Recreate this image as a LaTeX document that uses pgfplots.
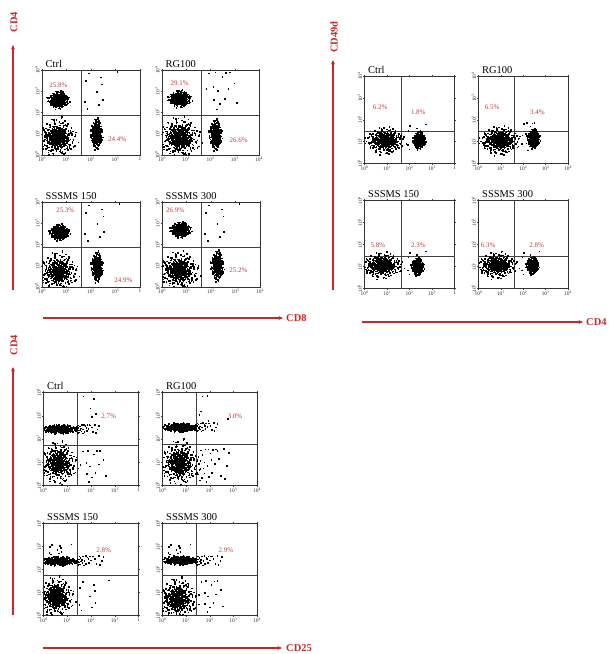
\documentclass[border=0pt]{standalone}
\usepackage{fontspec}
\setmainfont{Liberation Serif}
\usepackage{pgfplots}
\usepackage{pgfplotstable}
\pgfplotsset{compat=1.18}
\usetikzlibrary{arrows.meta}

\definecolor{axred}{RGB}{200,40,40}
\definecolor{pctred}{RGB}{196,62,62}

% event cloud, offsets in standard units (scaled per population)
\pgfplotstableread{
u v
0.12 -0.45
-0.83 0.31
1.21 0.07
-0.36 -1.12
0.54 0.88
-1.47 -0.22
0.03 0.61
0.77 -0.69
-0.15 1.34
1.68 -0.41
-0.62 -0.58
0.29 0.19
-1.05 0.96
0.91 1.52
-0.24 -0.03
0.46 -1.63
-1.89 0.44
1.03 -0.17
-0.51 0.72
0.18 -0.91
-0.07 0.27
2.11 0.63
-0.95 -1.38
0.64 0.35
-0.33 1.81
1.37 -1.06
-0.71 0.08
0.08 -0.26
-1.26 -0.79
0.39 1.09
0.85 0.02
-0.19 -0.74
-2.04 -0.11
0.57 -0.38
-0.44 0.51
1.49 0.83
0.22 -1.97
-0.88 1.21
0.01 -0.55
0.73 0.67
-1.16 0.19
0.33 -0.12
-0.58 -0.96
1.12 1.31
-0.27 0.04
0.96 -0.83
-1.58 1.02
0.14 0.93
-0.69 -0.31
1.84 -0.22
-0.11 -1.46
0.48 0.14
-0.96 0.66
0.26 -0.67
-0.42 -0.17
1.29 0.41
-1.33 -1.21
0.61 1.73
-0.05 -0.09
0.82 -1.27
-0.77 1.47
0.37 0.52
-2.31 0.58
1.07 -0.54
-0.21 0.83
0.69 -0.04
-0.54 -1.72
0.11 1.18
-1.08 -0.47
1.58 1.14
-0.31 -0.36
0.44 -0.81
-0.81 0.38
0.93 0.26
-0.13 2.06
0.05 -1.09
-1.71 -0.63
1.41 -0.73
-0.47 0.17
0.31 0.74
-0.64 -0.08
0.19 -0.33
2.36 -0.49
-1.19 1.63
0.58 -1.51
-0.09 0.44
0.87 0.59
-0.38 -0.62
1.19 -0.29
-0.99 -1.84
0.24 0.06
-0.57 1.05
1.63 0.29
-0.17 -1.21
0.66 1.27
-1.42 0.71
0.41 -0.47
-0.74 -0.24
0.98 0.97
-0.02 0.36
-1.22 -0.04
0.53 -0.99
-0.35 1.58
1.31 0.54
-0.86 -0.71
0.16 0.58
-1.64 -0.93
0.79 -0.14
-0.26 -0.49
0.47 2.21
-0.49 0.94
1.96 -0.88
-1.01 0.27
0.35 -0.21
-0.12 -0.81
0.71 0.41
-2.17 -0.41
1.16 1.66
-0.67 -1.33
0.09 0.13
-0.41 0.33
0.89 -0.37
-1.31 0.49
0.27 1.41
-0.22 -0.15
1.54 -1.18
-0.92 0.02
0.62 -0.63
-0.08 0.77
0.43 -0.07
-1.53 -0.33
1.01 0.16
-0.29 -1.03
0.13 0.39
-0.79 1.31
0.75 -1.79
-0.56 0.21
1.26 -0.02
-0.16 -0.42
0.51 0.99
-1.12 -1.09
0.32 -1.29
-0.61 0.61
2.02 0.38
-0.04 -0.66
0.84 0.81
-1.39 0.13
0.21 -0.53
-0.34 1.12
1.11 -0.96
}\blobdata

% scattered single events, unit square
\pgfplotstableread{
s t
0.12 0.95
0.35 0.98
0.58 0.97
0.81 0.99
0.22 0.62
0.08 0.41
0.46 0.33
0.15 0.18
0.67 0.71
0.05 0.77
0.29 0.08
0.91 0.52
0.41 0.86
0.19 0.45
0.73 0.24
0.03 0.28
0.54 0.58
0.11 0.66
0.36 0.21
0.62 0.94
0.26 0.97
0.09 0.12
0.49 0.96
0.17 0.83
0.31 0.52
0.84 0.15
0.06 0.57
0.44 0.69
0.23 0.31
0.97 0.88
}\sparsedata

\tikzset{
  pct/.style={font=\fontsize{7}{7}\selectfont, text=pctred, inner sep=0pt},
  marker/.style={axred, line width=1.2bp, -{Stealth[length=4.5bp, width=4bp]}},
  mlabel/.style={axred, font=\fontsize{10.5}{11}\selectfont\bfseries, inner sep=0pt},
}

\pgfplotsset{
  facs/.style={
    scale only axis, anchor=south west,
    xmin=0, xmax=4, ymin=0, ymax=4,
    xtick={0,1,2,3,4}, ytick={0,1,2,3,4},
    yticklabels={10\textsuperscript{0},10\textsuperscript{1},10\textsuperscript{2},10\textsuperscript{3},10\textsuperscript{4}},
    tick label style={font=\fontsize{5.4}{6}\selectfont, text=black!80, inner sep=0.8pt},
    y tick label style={rotate=90, anchor=south},
    tick align=outside, major tick length=1.4pt,
    every tick/.style={black!75, line width=0.4pt},
    axis line style={black!80, line width=0.75pt},
    title style={at={(0,1)}, anchor=base west, xshift=3.5bp, yshift=-3pt,
      font=\fontsize{10.5}{11}\selectfont, inner sep=0pt},
  },
  leftcol/.style={xticklabels={10\textsuperscript{0},10\textsuperscript{1},10\textsuperscript{2},10\textsuperscript{3},1}},
  rightcol/.style={xticklabels={10\textsuperscript{0},10\textsuperscript{1},10\textsuperscript{2},10\textsuperscript{3},10\textsuperscript{4}}},
  dots/.style={only marks, mark=square*, mark size=0.28pt, mark options={draw=none, fill=black!88}},
  gate/.style={black!75, line width=0.7pt},
}

% a population centred at (#1,#2) decades with spread #3, #4
\newcommand\blob[4]{\addplot[dots] table[x expr={#1+#3*\thisrow{u}}, y expr={#2+#4*\thisrow{v}}] {\blobdata};}
\newcommand\blobr[4]{\addplot[dots] table[x expr={#1-#3*\thisrow{v}}, y expr={#2+#4*\thisrow{u}}] {\blobdata};}
\newcommand\cell[4]{\blob{#1}{#2}{#3}{#4}\blobr{#1}{#2}{#3}{#4}}
\newcommand\dense[4]{\cell{#1}{#2}{#3}{#4}\blob{#1}{#2}{0.55*#3}{0.55*#4}}
% single events spread over the box x #1..#1+#3, y #2..#2+#4, every #5th
\newcommand\scatterbox[5]{\addplot[dots, each nth point=#5] table[x expr={#1+#3*\thisrow{s}}, y expr={#2+#4*\thisrow{t}}] {\sparsedata};}
\newcommand\gates[2]{\addplot[gate] coordinates {(#1,0) (#1,4)};\addplot[gate] coordinates {(0,#2) (4,#2)};}

\begin{document}
\begin{tikzpicture}
\path[use as bounding box] (0,0) rectangle (612bp,-654bp);

% ---------------- CD4 vs CD8 ----------------
\begin{axis}[facs, leftcol, at={(42bp,-155bp)}, width=98bp, height=85bp, title={Ctrl}]
  \dense{0.62}{0.8}{0.36}{0.42}
  \cell{0.66}{2.6}{0.2}{0.19}
  \cell{2.22}{1.0}{0.11}{0.32}
  \scatterbox{1.7}{1.95}{1.7}{2.0}{3}
  \gates{1.62}{1.88}
  \node[pct] at (axis cs:0.67,3.29) {25.8\%};
  \node[pct] at (axis cs:3.07,0.75) {24.4\%};
\end{axis}
\begin{axis}[facs, rightcol, at={(162bp,-155bp)}, width=97bp, height=85bp, title={RG100}]
  \dense{0.72}{0.8}{0.4}{0.45}
  \cell{0.72}{2.65}{0.22}{0.18}
  \cell{2.2}{0.95}{0.12}{0.32}
  \scatterbox{1.7}{2.0}{1.9}{1.95}{2}
  \gates{1.62}{1.88}
  \node[pct] at (axis cs:0.73,3.37) {29.1\%};
  \node[pct] at (axis cs:3.16,0.71) {26.6\%};
\end{axis}
\begin{axis}[facs, leftcol, at={(42bp,-287bp)}, width=98bp, height=85bp, title={SSSMS 150}]
  \dense{0.65}{0.72}{0.37}{0.42}
  \cell{0.7}{2.58}{0.19}{0.17}
  \cell{2.24}{0.95}{0.11}{0.32}
  \scatterbox{1.7}{1.95}{1.8}{2.0}{3}
  \gates{1.62}{1.86}
  \node[pct] at (axis cs:0.95,3.59) {25.3\%};
  \node[pct] at (axis cs:3.32,0.33) {24.9\%};
\end{axis}
\begin{axis}[facs, rightcol, at={(162bp,-287bp)}, width=98bp, height=85bp, title={SSSMS 300}]
  \dense{0.68}{0.75}{0.38}{0.42}
  \cell{0.75}{2.7}{0.2}{0.17}
  \cell{2.25}{1.0}{0.12}{0.32}
  \scatterbox{1.7}{1.95}{1.8}{2.0}{3}
  \gates{1.62}{1.86}
  \node[pct] at (axis cs:0.54,3.59) {26.9\%};
  \node[pct] at (axis cs:3.12,0.81) {25.2\%};
\end{axis}

% ---------------- CD49d vs CD4 ----------------
\begin{axis}[facs, leftcol, at={(364.5bp,-163.5bp)}, width=90bp, height=87.5bp, title={Ctrl}]
  \dense{0.9}{1.05}{0.4}{0.28}
  \cell{2.42}{1.08}{0.13}{0.19}
  \scatterbox{1.9}{0.5}{1.0}{1.3}{3}
  \gates{1.62}{1.45}
  \node[pct] at (axis cs:0.70,2.58) {6.2\%};
  \node[pct] at (axis cs:2.39,2.35) {1.8\%};
\end{axis}
\begin{axis}[facs, rightcol, at={(478.5bp,-163.5bp)}, width=89.5bp, height=87.5bp, title={RG100}]
  \dense{0.95}{1.05}{0.42}{0.3}
  \cell{2.45}{1.15}{0.13}{0.2}
  \scatterbox{1.9}{0.5}{1.0}{1.4}{2}
  \gates{1.62}{1.45}
  \node[pct] at (axis cs:0.61,2.58) {6.5\%};
  \node[pct] at (axis cs:2.63,2.35) {3.4\%};
\end{axis}
\begin{axis}[facs, leftcol, at={(364.5bp,-288.5bp)}, width=90bp, height=88bp, title={SSSMS 150}]
  \dense{0.78}{1.05}{0.42}{0.27}
  \cell{2.35}{1.0}{0.13}{0.18}
  \scatterbox{1.9}{0.5}{1.0}{1.2}{3}
  \gates{1.62}{1.44}
  \node[pct] at (axis cs:0.6,1.96) {5.8\%};
  \node[pct] at (axis cs:2.4,1.96) {2.3\%};
\end{axis}
\begin{axis}[facs, rightcol, at={(478.5bp,-288.5bp)}, width=89.5bp, height=88bp, title={SSSMS 300}]
  \dense{0.82}{1.05}{0.42}{0.27}
  \cell{2.4}{1.05}{0.13}{0.18}
  \scatterbox{1.9}{0.5}{1.0}{1.2}{3}
  \gates{1.62}{1.44}
  \node[pct] at (axis cs:0.43,1.96) {6.3\%};
  \node[pct] at (axis cs:2.6,1.96) {2.8\%};
\end{axis}

% ---------------- CD4 vs CD25 ----------------
\begin{axis}[facs, leftcol, at={(43.5bp,-485.5bp)}, width=95bp, height=93bp, title={Ctrl}]
  \cell{0.68}{2.43}{0.36}{0.09}
  \scatterbox{1.35}{2.22}{1.0}{0.4}{1}
  \dense{0.62}{0.95}{0.36}{0.42}
  \scatterbox{1.45}{0.05}{1.6}{1.5}{2}
  \scatterbox{1.5}{2.7}{1.5}{1.2}{6}
  \gates{1.43}{1.71}
  \node[pct] at (axis cs:2.74,3.0) {2.7\%};
\end{axis}
\begin{axis}[facs, rightcol, at={(162.5bp,-485.5bp)}, width=94.5bp, height=93bp, title={RG100}]
  \cell{0.7}{2.5}{0.36}{0.09}
  \scatterbox{1.35}{2.3}{1.0}{0.4}{1}
  \dense{0.7}{0.95}{0.38}{0.45}
  \scatterbox{1.45}{0.05}{1.4}{1.55}{1}
  \scatterbox{1.5}{2.7}{1.5}{1.2}{5}
  \gates{1.43}{1.75}
  \node[pct] at (axis cs:3.07,3.0) {3.0\%};
\end{axis}
\begin{axis}[facs, leftcol, at={(43.5bp,-615.5bp)}, width=95bp, height=92bp, title={SSSMS 150}]
  \cell{0.65}{2.37}{0.36}{0.09}
  \scatterbox{1.35}{2.15}{1.2}{0.45}{1}
  \dense{0.5}{0.8}{0.36}{0.4}
  \scatterbox{1.45}{0.05}{1.6}{1.5}{3}
  \scatterbox{0.2}{2.6}{1.2}{0.5}{3}
  \gates{1.43}{1.74}
  \node[pct] at (axis cs:2.53,2.84) {2.8\%};
\end{axis}
\begin{axis}[facs, rightcol, at={(162.5bp,-615.5bp)}, width=94.5bp, height=92bp, title={SSSMS 300}]
  \cell{0.7}{2.4}{0.36}{0.09}
  \scatterbox{1.35}{2.15}{1.2}{0.45}{1}
  \dense{0.63}{0.7}{0.38}{0.42}
  \scatterbox{1.45}{0.05}{1.5}{1.5}{2}
  \scatterbox{0.2}{2.6}{1.2}{0.5}{3}
  \gates{1.43}{1.74}
  \node[pct] at (axis cs:2.68,2.84) {2.9\%};
\end{axis}

% ---------------- marker arrows ----------------
\draw[marker] (13bp,-290bp) -- (13bp,-45bp);
\node[mlabel, rotate=90] at (14bp,-22bp) {CD4};
\draw[marker] (43bp,-318bp) -- (283bp,-318bp);
\node[mlabel, anchor=west] at (286bp,-318bp) {CD8};

\draw[marker] (333bp,-290bp) -- (333bp,-60bp);
\node[mlabel, rotate=90] at (334bp,-37bp) {CD49d};
\draw[marker] (362bp,-322bp) -- (583bp,-322bp);
\node[mlabel, anchor=west] at (586bp,-322bp) {CD4};

\draw[marker] (13bp,-615bp) -- (13bp,-367bp);
\node[mlabel, rotate=90] at (14bp,-345bp) {CD4};
\draw[marker] (43bp,-648bp) -- (282bp,-648bp);
\node[mlabel, anchor=west] at (286bp,-648bp) {CD25};
\end{tikzpicture}
\end{document}
